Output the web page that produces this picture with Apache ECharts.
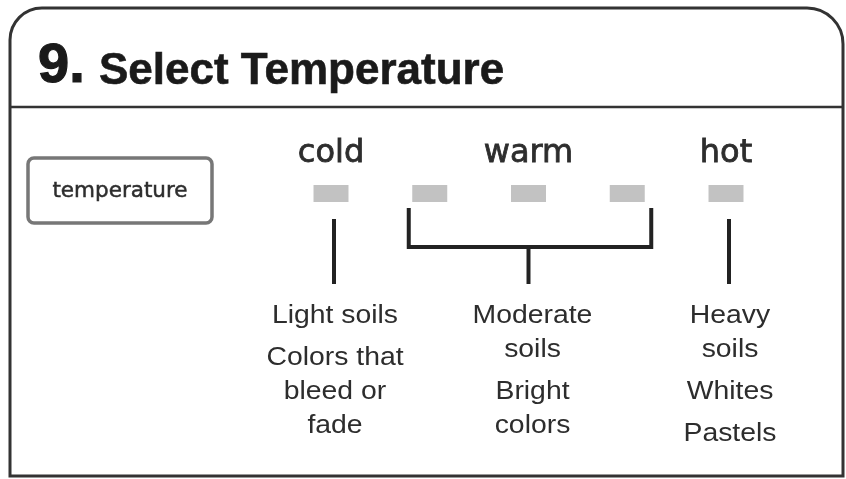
<!DOCTYPE html>
<html>
<head>
<meta charset="utf-8">
<script src="https://cdn.jsdelivr.net/npm/echarts@6/dist/echarts.min.js"></script>
<style>
  html, body { margin: 0; padding: 0; background: #fff; }
  #main { width: 846px; height: 479px; }
</style>
</head>
<body>
<div id="main"></div>
<script>
// step heading
const stepNo = '9.'
const stepTitle = 'Select Temperature'
const factorName = 'temperature'

// temperature choices, one slot per setting on the dial
const slots = [0, 1, 2, 3, 4]
const groups = ['cold', 'warm', 'hot']
const groupSlots = [[0], [1, 2, 3], [4]]
// each group: list of note blocks, each block a list of lines
const groupNotes = [
  [['Light soils'], ['Colors that', 'bleed or', 'fade']],
  [['Moderate', 'soils'], ['Bright', 'colors']],
  [['Heavy', 'soils'], ['Whites'], ['Pastels']]
]

const chart = echarts.init(document.getElementById('main'))

const SLOT_STEP = 98.75
const SLOT0_X = 331
const ROW = { label: 154, bar: 193.5, stemTop: 219, bracketTop: 208, bracketY: 247, stemBottom: 284, notes: 316 }
const INK = '#222'
const TEXT = '#2d2d2d'

const mid = arr => (arr[0] + arr[arr.length - 1]) / 2

const option = {
  animation: false,
  grid: { left: 0, right: 0, top: 0, bottom: 0 },
  xAxis: {
    type: 'value',
    min: -SLOT0_X / SLOT_STEP,
    max: (846 - SLOT0_X) / SLOT_STEP,
    show: false
  },
  yAxis: { type: 'value', min: 0, max: 479, inverse: true, show: false },
  graphic: [
    {
      type: 'rect',
      shape: { x: 10, y: 8, width: 833, height: 468, r: [32, 36, 0, 0] },
      style: { fill: '#fff', stroke: '#333', lineWidth: 3 },
      z: -10
    },
    {
      type: 'line',
      shape: { x1: 10, y1: 107, x2: 843, y2: 107 },
      style: { stroke: '#333', lineWidth: 2.5 }
    },
    {
      type: 'text',
      style: {
        text: stepNo, x: 38, y: 67, verticalAlign: 'middle',
        font: 'bold 56px "Liberation Sans", Arial, sans-serif', fill: '#1a1a1a',
        stroke: '#1a1a1a', lineWidth: 1.2
      }
    },
    {
      type: 'text',
      style: {
        text: stepTitle, x: 99, y: 72, verticalAlign: 'middle',
        font: 'bold 44px "Liberation Sans", Arial, sans-serif', fill: '#1a1a1a',
        stroke: '#1a1a1a', lineWidth: 0.6
      }
    },
    {
      type: 'rect',
      shape: { x: 28, y: 158, width: 184, height: 65, r: 6 },
      style: { fill: '#fff', stroke: '#777', lineWidth: 3.5 }
    },
    {
      type: 'text',
      style: {
        text: factorName, x: 120, y: 191, align: 'center', verticalAlign: 'middle',
        font: '21.5px "DejaVu Sans", sans-serif', fill: TEXT,
        stroke: TEXT, lineWidth: 0.5
      }
    }
  ],
  series: [
    {
      name: 'settings',
      type: 'scatter',
      symbol: 'rect',
      symbolSize: [35, 17],
      itemStyle: { color: '#b3b3b3' },
      data: slots.map(s => [s, ROW.bar])
    },
    {
      name: 'groupLabels',
      type: 'custom',
      data: groups.map((g, i) => [mid(groupSlots[i]), ROW.label]),
      renderItem: (params, api) => {
        const p = api.coord([api.value(0), api.value(1)])
        return {
          type: 'text',
          style: {
            text: groups[params.dataIndex], x: p[0], y: p[1],
            align: 'center', verticalAlign: 'middle',
            font: '32px "DejaVu Sans", sans-serif', fill: TEXT,
            stroke: TEXT, lineWidth: 0.8
          }
        }
      }
    },
    {
      name: 'connectors',
      type: 'custom',
      data: groups.map((g, i) => [mid(groupSlots[i]), ROW.stemBottom]),
      renderItem: (params, api) => {
        const ss = groupSlots[params.dataIndex]
        const c = api.coord([api.value(0), api.value(1)])
        const style = { stroke: INK, lineWidth: 4, fill: null }
        if (ss.length === 1) {
          return {
            type: 'line',
            shape: { x1: c[0] + 3, y1: ROW.stemTop, x2: c[0] + 3, y2: c[1] },
            style
          }
        }
        const left = api.coord([ss[0], 0])[0] - 21
        const right = api.coord([ss[ss.length - 1], 0])[0] + 24
        return {
          type: 'group',
          children: [
            {
              type: 'polyline',
              shape: { points: [[left, ROW.bracketTop], [left, ROW.bracketY], [right, ROW.bracketY], [right, ROW.bracketTop]] },
              style
            },
            {
              type: 'line',
              shape: { x1: c[0], y1: ROW.bracketY, x2: c[0], y2: c[1] },
              style
            }
          ]
        }
      }
    },
    {
      name: 'notes',
      type: 'custom',
      data: groups.map((g, i) => [mid(groupSlots[i]), ROW.notes]),
      renderItem: (params, api) => {
        const c = api.coord([api.value(0), api.value(1)])
        const children = []
        let y = c[1]
        groupNotes[params.dataIndex].forEach(block => {
          block.forEach(line => {
            children.push({
              type: 'text',
              x: c[0] + 4,
              y: y,
              scaleX: 1.07,
              style: {
                text: line, x: 0, y: 0,
                align: 'center', verticalAlign: 'middle',
                font: '26.5px "Liberation Sans", Arial, sans-serif', fill: TEXT
              }
            })
            y += 34
          })
          y += 8
        })
        return { type: 'group', children }
      }
    }
  ]
}
chart.setOption(option)
</script>
</body>
</html>
